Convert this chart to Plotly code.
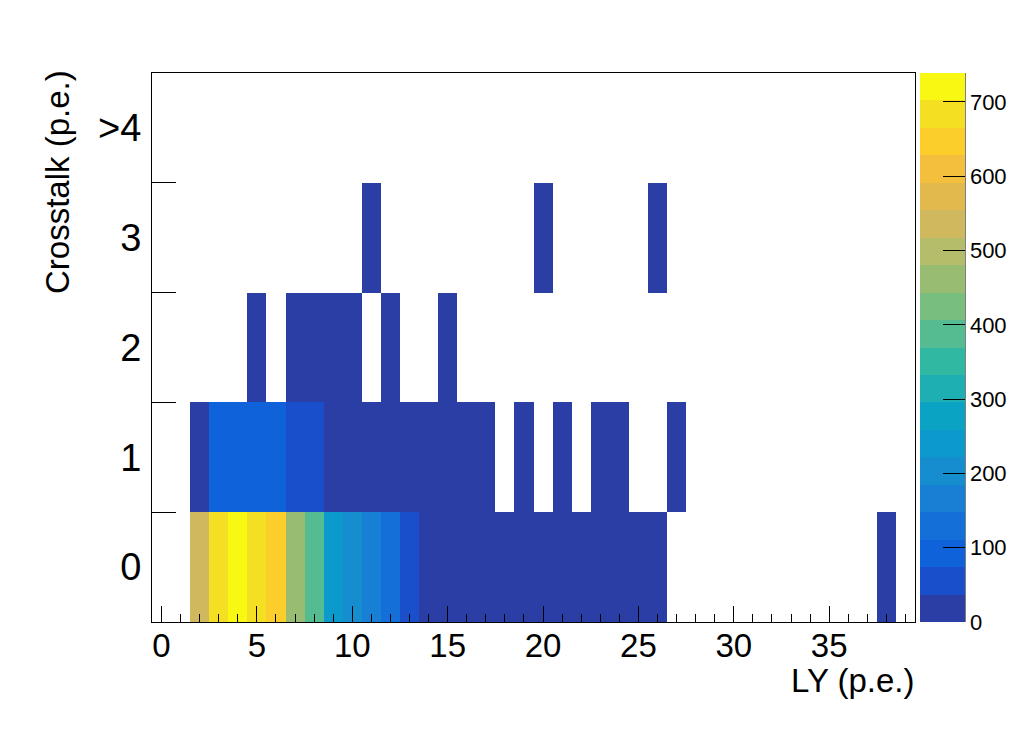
import plotly.graph_objects as go

# ---- data ----
ly_bins = list(range(40))            # LY (p.e.) bin centers 0..39
xt_bins = [0, 1, 2, 3, 4]            # crosstalk bins
xt_labels = ["0", "1", "2", "3", ">4"]

# counts per LY bin (0 = empty)
row0 = [0, 0, 535, 685, 739, 675, 645, 460, 390, 245, 200, 165, 125, 55,
        20, 16, 14, 12, 10, 9, 8, 7, 6, 5, 4, 3, 2,
        0, 0, 0, 0, 0, 0, 0, 0, 0, 0, 0, 1, 0]
row1 = [0, 0, 10, 90, 92, 90, 88, 55, 52, 20, 18, 15, 12, 10,
        8, 6, 5, 3, 0, 2, 0, 2, 0, 1, 1, 0, 0,
        1, 0, 0, 0, 0, 0, 0, 0, 0, 0, 0, 0, 0]
row2 = [0, 0, 0, 0, 0, 1, 0, 2, 2, 1, 1, 0, 1, 0,
        0, 1, 0, 0, 0, 0, 0, 0, 0, 0, 0, 0, 0,
        0, 0, 0, 0, 0, 0, 0, 0, 0, 0, 0, 0, 0]
row3 = [0, 0, 0, 0, 0, 0, 0, 0, 0, 0, 0, 1, 0, 0,
        0, 0, 0, 0, 0, 0, 1, 0, 0, 0, 0, 0, 1,
        0, 0, 0, 0, 0, 0, 0, 0, 0, 0, 0, 0, 0]
row4 = [0] * 40

z_max = 739
cbar_ticks = [0, 100, 200, 300, 400, 500, 600, 700]
x_ticks = [0, 5, 10, 15, 20, 25, 30, 35]

# 20-level palette (ROOT kBird-like, as rendered)
band_colors = ["#2a3ea6", "#1a4fcb", "#0f62da", "#1470d8", "#177fd4",
               "#168dcf", "#0c99cb", "#0aa3c4", "#1eafb2", "#30b8a3",
               "#55bb90", "#78be7e", "#98bd72", "#b5bd6a", "#d0b85e",
               "#e2b94c", "#f3bf3c", "#fcce2c", "#f5df22", "#f8f812"]

# ---- build ----
z = []
for row in (row0, row1, row2, row3, row4):
    z.append([v if v > 0 else None for v in row])

n = len(band_colors)
colorscale = []
for i, c in enumerate(band_colors):
    colorscale.append([i / n, c])
    colorscale.append([(i + 1) / n, c])

OFF = 8                       # page body margin
W, H = 1016 - 2 * OFF, 733 - 2 * OFF
# target plot area in screen pixels
SX0, SX1, SY0, SY1 = 152, 915, 73, 622
L = SX0 - OFF
T = SY0 - OFF
R = W - (SX1 - OFF)
B = H - (SY1 - OFF)
pw = W - L - R
ph = H - T - B

def px_x(p):
    return (p - OFF - L) / pw

def px_y(p):
    return (H - B - (p - OFF)) / ph

FONT = "Liberation Sans, Arial, sans-serif"

fig = go.Figure(go.Heatmap(
    x=ly_bins, y=xt_bins, z=z,
    zmin=0, zmax=z_max,
    colorscale=colorscale,
    xgap=0, ygap=0,
    colorbar=dict(
        x=px_x(920), xanchor="left", xpad=0, ypad=0,
        y=0.5, yanchor="middle", len=1, lenmode="fraction",
        thickness=45, thicknessmode="pixels",
        outlinewidth=0,
        tickvals=cbar_ticks, ticks="inside", ticklen=22,
        tickcolor="black", tickwidth=1,
        tickfont=dict(family=FONT, size=22, color="black"),
    ),
    hoverongaps=False,
))

fig.update_layout(
    width=W, height=H,
    margin=dict(l=L, r=R, t=T, b=B, autoexpand=False),
    paper_bgcolor="white", plot_bgcolor="white",
    font=dict(family=FONT, color="black"),
    xaxis=dict(
        range=[-0.5, 39.5], showgrid=False, zeroline=False, automargin=False,
        showline=True, linecolor="black", linewidth=1, mirror=True,
        tickvals=x_ticks, ticks="inside", ticklen=16, tickcolor="black",
        ticklabelstandoff=-6,
        tickfont=dict(family=FONT, size=33, color="black"),
        minor=dict(dtick=1, tick0=0, ticks="inside", ticklen=8,
                   tickcolor="black"),
    ),
    yaxis=dict(
        range=[-0.5, 4.5], showgrid=False, zeroline=False, automargin=False,
        showline=True, linecolor="black", linewidth=1, mirror=True,
        tickvals=xt_bins, ticktext=xt_labels, ticks="", ticklen=0,
        ticklabelstandoff=2,
        tickfont=dict(family=FONT, size=38, color="black"),
        minor=dict(tickvals=[0.5, 1.5, 2.5, 3.5], ticks="inside",
                   ticklen=24, tickcolor="black", showgrid=False),
    ),
    annotations=[
        dict(text="LY (p.e.)", xref="paper", yref="paper",
             x=px_x(917), y=px_y(680), xanchor="right", yanchor="middle",
             showarrow=False, font=dict(family=FONT, size=33, color="black")),
        dict(text="Crosstalk (p.e.)", xref="paper", yref="paper",
             x=px_x(57), y=px_y(182), xanchor="center", yanchor="middle",
             textangle=-90, showarrow=False,
             font=dict(family=FONT, size=33, color="black")),
    ],
    shapes=[
        dict(type="line", xref="paper", yref="paper",
             x0=px_x(965), x1=px_x(965), y0=0, y1=1,
             line=dict(color="black", width=1)),
    ],
)

fig.write_html("out.html")
